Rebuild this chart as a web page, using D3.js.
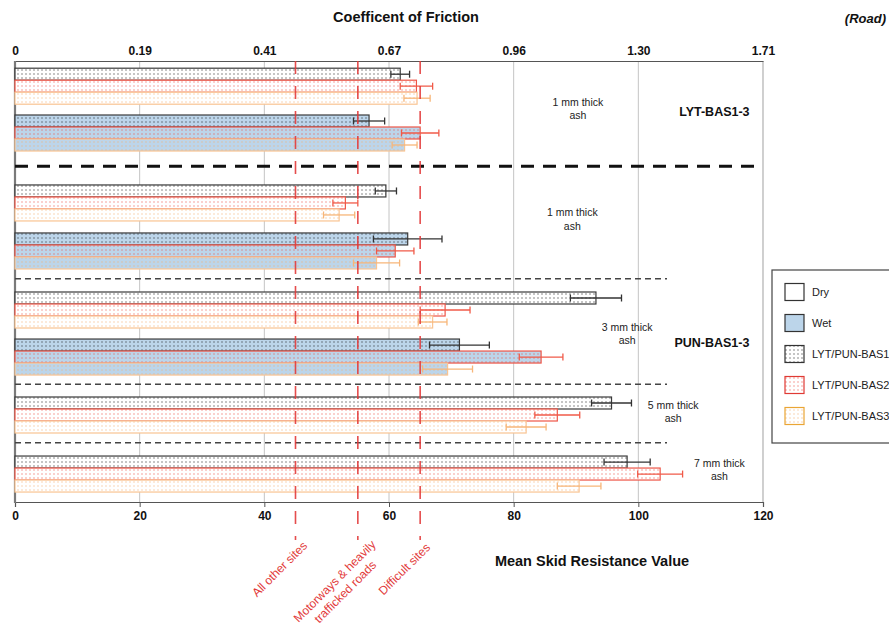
<!DOCTYPE html>
<html>
<head>
<meta charset="utf-8">
<script src="https://cdn.jsdelivr.net/npm/d3@7"></script>
<style>
  body { margin: 0; background: #fff; }
  svg { font-family: "Liberation Sans", Arial, sans-serif; }
</style>
</head>
<body>
<svg id="chart" width="889" height="626"></svg>
<script>
// ---- data -------------------------------------------------------------
const rowNames   = ["LYT 1 mm Dry", "LYT 1 mm Wet", "PUN 1 mm Dry", "PUN 1 mm Wet",
                    "PUN 3 mm Dry", "PUN 3 mm Wet", "PUN 5 mm Dry", "PUN 7 mm Dry"];
const rowSurface = ["Dry", "Wet", "Dry", "Wet", "Dry", "Wet", "Dry", "Dry"];
const seriesNames = ["LYT/PUN-BAS1", "LYT/PUN-BAS2", "LYT/PUN-BAS3"];
const bas1Values = [61.8, 56.8, 59.5, 63.0, 93.2, 71.3, 95.7, 98.2];
const bas1Errors = [1.5, 2.5, 1.7, 5.5, 4.1, 4.8, 3.2, 3.7];
const bas2Values = [64.4, 65.0, 53.0, 61.0, 69.0, 84.4, 87.0, 103.5];
const bas2Errors = [2.6, 3.0, 2.0, 3.0, 4.0, 3.5, 3.6, 3.6];
const bas3Values = [64.5, 62.5, 52.0, 58.0, 67.0, 69.4, 82.0, 90.5];
const bas3Errors = [2.1, 2.0, 2.5, 3.7, 2.3, 4.0, 3.2, 3.5];
const skidTicks = [0, 20, 40, 60, 80, 100, 120];
const frictionLabels = ["0", "0.19", "0.41", "0.67", "0.96", "1.30", "1.71"];
const thresholds = [45, 55, 65];
const thresholdLabels = [["All other sites"], ["Motorways & heavily", "trafficked roads"], ["Difficult sites"]];
const thicknessLabels = [["1 mm thick", "ash"], ["1 mm thick", "ash"], ["3 mm thick", "ash"],
                         ["5 mm thick", "ash"], ["7 mm thick", "ash"]];
const siteLabels = ["LYT-BAS1-3", "PUN-BAS1-3"];
const legendLabels = ["Dry", "Wet", "LYT/PUN-BAS1", "LYT/PUN-BAS2", "LYT/PUN-BAS3"];

// ---- layout -----------------------------------------------------------
const svg = d3.select("#chart");
const plotLeft = 15, plotRight = 763, plotTop = 61, plotBottom = 502;
const x = d3.scaleLinear().domain([0, 120]).range([plotLeft, plotRight]);
// vertical positions measured in bar heights
const y = d3.scaleLinear().domain([0, 36.75]).range([plotTop, plotBottom]);
const rowGapBefore = [0.6, 0.9, 2.83, 1.0, 1.92, 0.92, 1.83, 1.92];
const rowStart = [];
rowGapBefore.reduce((acc, g, i) => { rowStart[i] = acc + g; return acc + g + 3; }, 0);
const separators = [
  { after: 1, heavy: true },
  { after: 3, heavy: false },
  { after: 5, heavy: false },
  { after: 6, heavy: false }
];
const thickPos = [{ v: 90.3, u: 4.0 }, { v: 89.4, u: 13.2 }, { v: 98.2, u: 22.75 },
                  { v: 105.6, u: 29.25 }, { v: 113.0, u: 34.05 }];
const sitePos = [{ v: 112.2, u: 4.25 }, { v: 111.8, u: 23.5 }];

const wetFill = "#bcd5ea";
const seriesStyle = [
  { stroke: "#3a3a3a", dot: "#1a1a1a", err: "#333333", legendStroke: "#333" },
  { stroke: "#ee5547", dot: "#ee4a3c", err: "#f05a48", legendStroke: "#e03a34" },
  { stroke: "#f9c492", dot: "#f5ad6c", err: "#f7b679", legendStroke: "#eaa534" }
];

// ---- dot patterns ------------------------------------------------------
const defs = svg.append("defs");
function makePattern(id, bg, dot) {
  const p = defs.append("pattern").attr("id", id)
    .attr("patternUnits", "userSpaceOnUse").attr("width", 4).attr("height", 4);
  p.append("rect").attr("width", 4).attr("height", 4).attr("fill", bg);
  p.append("rect").attr("x", 1.5).attr("y", 1.5).attr("width", 1).attr("height", 1).attr("fill", dot);
}
seriesStyle.forEach((s, i) => {
  makePattern(`dot-dry-${i}`, "#ffffff", s.dot);
  makePattern(`dot-wet-${i}`, wetFill, s.dot);
});

// ---- grid and frame ---------------------------------------------------
svg.append("g").selectAll("line").data(skidTicks.slice(1, -1)).join("line")
  .attr("x1", d => x(d)).attr("x2", d => x(d)).attr("y1", plotTop).attr("y2", plotBottom)
  .attr("stroke", "#c4c4c4").attr("stroke-width", 1);
svg.append("line").attr("x1", x(120)).attr("x2", x(120)).attr("y1", plotTop).attr("y2", plotBottom)
  .attr("stroke", "#b0b0b0").attr("stroke-width", 1.2);

// top axis (coefficient of friction)
const topAxis = d3.axisTop(x).tickValues(skidTicks)
  .tickFormat((d, i) => frictionLabels[i]).tickSize(0).tickPadding(6);
const gTop = svg.append("g").attr("transform", `translate(0,${plotTop})`).call(topAxis);
gTop.select(".domain").attr("stroke", "#555").attr("stroke-width", 1.2);
gTop.selectAll("text").attr("font-size", 12).attr("font-weight", "bold")
  .attr("fill", "#111").attr("font-family", "Liberation Sans, Arial, sans-serif");

// bottom axis (skid resistance)
const botAxis = d3.axisBottom(x).tickValues(skidTicks).tickSize(5).tickPadding(4);
const gBot = svg.append("g").attr("transform", `translate(0,${plotBottom})`).call(botAxis);
gBot.select(".domain").attr("stroke", "#555").attr("stroke-width", 1.2);
gBot.selectAll(".tick line").attr("stroke", "#555");
gBot.selectAll("text").attr("font-size", 12).attr("font-weight", "bold")
  .attr("fill", "#111").attr("font-family", "Liberation Sans, Arial, sans-serif");

// left spine
svg.append("line").attr("x1", plotLeft).attr("x2", plotLeft).attr("y1", plotTop).attr("y2", plotBottom + 1)
  .attr("stroke", "#7a7a7a").attr("stroke-width", 2.2);

// ---- bars ---------------------------------------------------------------
const valueSets = [bas1Values, bas2Values, bas3Values];
const errorSets = [bas1Errors, bas2Errors, bas3Errors];
const bars = [];
rowNames.forEach((name, r) => {
  seriesNames.forEach((s, k) => {
    bars.push({ row: r, k, surface: rowSurface[r], value: valueSets[k][r], err: errorSets[k][r] });
  });
});

const gBars = svg.append("g");
gBars.selectAll("rect").data(bars).join("rect")
  .attr("x", x(0))
  .attr("y", d => y(rowStart[d.row] + d.k))
  .attr("width", d => x(d.value) - x(0))
  .attr("height", d => y(rowStart[d.row] + d.k + 1) - y(rowStart[d.row] + d.k))
  .attr("fill", d => `url(#dot-${d.surface === "Wet" ? "wet" : "dry"}-${d.k})`)
  .attr("stroke", d => seriesStyle[d.k].stroke)
  .attr("stroke-width", 1.2);

// error bars
const gErr = svg.append("g");
const capHalf = 3.5;
bars.forEach(d => {
  const cy = y(rowStart[d.row] + d.k + 0.5);
  const c = seriesStyle[d.k].err;
  gErr.append("line").attr("x1", x(d.value - d.err)).attr("x2", x(d.value + d.err))
    .attr("y1", cy).attr("y2", cy).attr("stroke", c).attr("stroke-width", 1.3);
  [d.value - d.err, d.value + d.err].forEach(v => {
    gErr.append("line").attr("x1", x(v)).attr("x2", x(v))
      .attr("y1", cy - capHalf).attr("y2", cy + capHalf)
      .attr("stroke", c).attr("stroke-width", 1.3);
  });
});

// ---- separators -------------------------------------------------------
separators.forEach(s => {
  const u = (rowStart[s.after] + 3 + rowStart[s.after + 1]) / 2 - 0.15;
  svg.append("line")
    .attr("x1", x(0)).attr("x2", s.heavy ? x(120) : x(104.6))
    .attr("y1", y(u)).attr("y2", y(u))
    .attr("stroke", s.heavy ? "#111" : "#444")
    .attr("stroke-width", s.heavy ? 3 : 1.4)
    .attr("stroke-dasharray", s.heavy ? "13,9" : "6,4");
});

// ---- skid resistance threshold lines ----------------------------------
const gThr = svg.append("g");
thresholds.forEach((t, i) => {
  gThr.append("line").attr("x1", x(t)).attr("x2", x(t))
    .attr("y1", plotTop).attr("y2", 540)
    .attr("stroke", "#e23a3a").attr("stroke-width", 1.6).attr("stroke-opacity", 0.9)
    .attr("stroke-dasharray", "13,12");
  const lines = thresholdLabels[i];
  const cx = lines.length === 1 ? x(t) - 16 : x(t) - 18;
  const cy = lines.length === 1 ? 569 : 586.5;
  const txt = gThr.append("text")
    .attr("transform", `translate(${cx},${cy}) rotate(-45)`)
    .attr("text-anchor", "middle").attr("font-size", 12).attr("fill", "#e23a3a");
  lines.forEach((l, j) => {
    txt.append("tspan").attr("x", 0)
      .attr("y", (j - (lines.length - 1) / 2) * 15)
      .attr("dy", "0.35em").text(l);
  });
});

// ---- annotations -------------------------------------------------------
thicknessLabels.forEach((lines, i) => {
  const t = svg.append("text").attr("text-anchor", "middle")
    .attr("font-size", 10.5).attr("fill", "#222")
    .attr("transform", `translate(${x(thickPos[i].v)},${y(thickPos[i].u)})`);
  lines.forEach((l, j) => {
    t.append("tspan").attr("x", 0).attr("y", (j - 0.5) * 13.5).attr("dy", "0.35em").text(l);
  });
});
siteLabels.forEach((l, i) => {
  svg.append("text").attr("x", x(sitePos[i].v)).attr("y", y(sitePos[i].u))
    .attr("dy", "0.35em").attr("text-anchor", "middle")
    .attr("font-size", 12.5).attr("font-weight", "bold").attr("fill", "#111").text(l);
});

// titles
svg.append("text").attr("x", 406).attr("y", 17).attr("dy", "0.35em")
  .attr("text-anchor", "middle").attr("font-size", 14.5).attr("font-weight", "bold")
  .attr("fill", "#111").text("Coefficent of Friction");
svg.append("text").attr("x", 886).attr("y", 18).attr("dy", "0.35em")
  .attr("text-anchor", "end").attr("font-size", 13).attr("font-weight", "bold")
  .attr("font-style", "italic").attr("fill", "#111").text("(Road)");
svg.append("text").attr("x", 592).attr("y", 561).attr("dy", "0.35em")
  .attr("text-anchor", "middle").attr("font-size", 14.5).attr("font-weight", "bold")
  .attr("fill", "#111").text("Mean Skid Resistance Value");

// ---- legend -------------------------------------------------------------
const gLeg = svg.append("g");
gLeg.append("rect").attr("x", 772).attr("y", 270).attr("width", 140).attr("height", 173)
  .attr("fill", "#fff").attr("stroke", "#444").attr("stroke-width", 1.2);
const swatchFill = ["#ffffff", wetFill, "url(#dot-dry-0)", "url(#dot-dry-1)", "url(#dot-dry-2)"];
const swatchStroke = ["#333", "#333", seriesStyle[0].legendStroke, seriesStyle[1].legendStroke, seriesStyle[2].legendStroke];
legendLabels.forEach((l, i) => {
  const cy = 292 + i * 31;
  gLeg.append("rect").attr("x", 785).attr("y", cy - 8.5).attr("width", 19).attr("height", 17)
    .attr("fill", swatchFill[i]).attr("stroke", swatchStroke[i]).attr("stroke-width", 1.2);
  gLeg.append("text").attr("x", 812).attr("y", cy).attr("dy", "0.35em")
    .attr("font-size", 11).attr("fill", "#222").text(l);
});
</script>
</body>
</html>
